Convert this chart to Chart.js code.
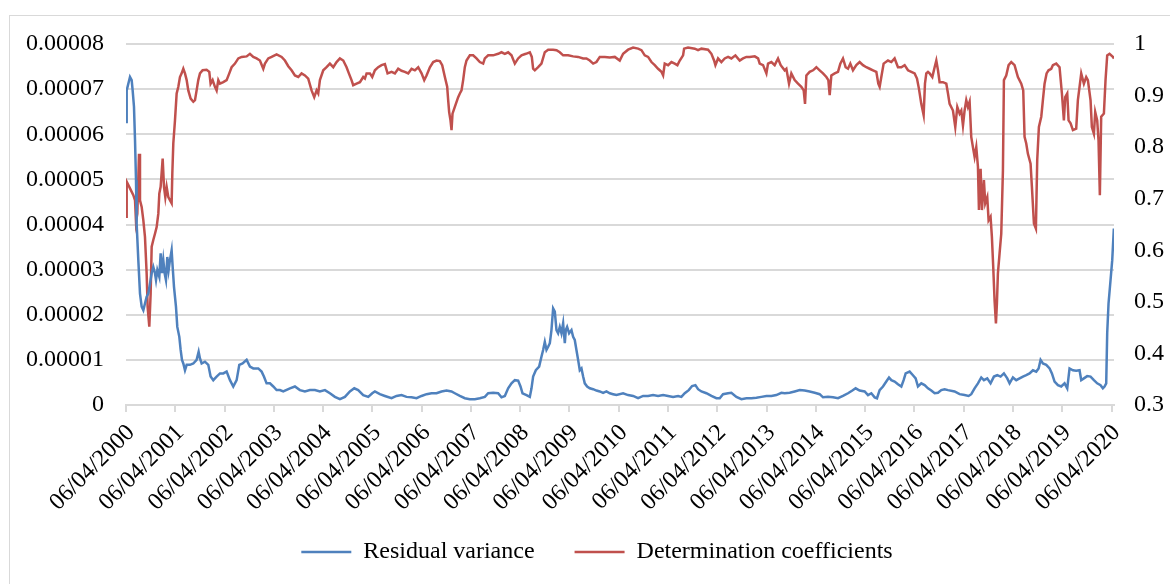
<!DOCTYPE html>
<html>
<head>
<meta charset="utf-8">
<script src="https://cdn.jsdelivr.net/npm/chart.js@4.4.1/dist/chart.umd.min.js"></script>
<style>
  html, body { margin: 0; padding: 0; background: #fff; overflow: hidden; }
  #wrap { position: relative; width: 1170px; height: 584px; }
  #frame { position: absolute; left: 9px; top: 15px; width: 1300px; height: 700px; border: 1px solid #d9d9d9; box-sizing: border-box; }
  canvas { position: absolute; left: 0; top: 0; }
</style>
</head>
<body>
<div id="wrap">
  <div id="frame"></div>
  <canvas id="chart" width="1170" height="584"></canvas>
</div>
<script>
// x positions are years elapsed since 06/04/2000
const tickLabels = ['06/04/2000', '06/04/2001', '06/04/2002', '06/04/2003', '06/04/2004', '06/04/2005',
  '06/04/2006', '06/04/2007', '06/04/2008', '06/04/2009', '06/04/2010', '06/04/2011', '06/04/2012',
  '06/04/2013', '06/04/2014', '06/04/2015', '06/04/2016', '06/04/2017', '06/04/2018', '06/04/2019', '06/04/2020'];

const residualTime = [0, 0.014, 0.047, 0.081, 0.115, 0.135, 0.162, 0.183, 0.203, 0.216, 0.25, 0.284, 0.318, 0.352, 0.385, 0.419, 0.453, 0.487, 0.521, 0.554, 0.588, 0.609, 0.636, 0.676, 0.703, 0.73, 0.757, 0.784, 0.811, 0.838, 0.865, 0.892, 0.926, 0.947, 0.974,
  1.014, 1.041, 1.082, 1.109, 1.136, 1.163, 1.197, 1.231, 1.298, 1.366, 1.433, 1.474, 1.501, 1.535, 1.602, 1.67, 1.717, 1.771, 1.839, 1.907, 1.974,
  2.042, 2.11, 2.177, 2.245, 2.299, 2.366, 2.448, 2.515, 2.583, 2.684, 2.752, 2.799, 2.853, 2.921, 2.989,
  3.056, 3.124, 3.191, 3.327, 3.428, 3.529, 3.631, 3.732, 3.834, 3.935, 4.037, 4.138, 4.239, 4.341, 4.442, 4.544, 4.632, 4.712, 4.814, 4.916, 4.997,
  5.051, 5.152, 5.254, 5.389, 5.49, 5.592, 5.693, 5.795, 5.896, 5.997, 6.099, 6.201, 6.302, 6.403, 6.505, 6.606, 6.673, 6.775, 6.876, 6.978,
  7.079, 7.18, 7.282, 7.35, 7.451, 7.552, 7.62, 7.688, 7.755, 7.823, 7.891, 7.958, 8.006, 8.047, 8.128, 8.195, 8.229, 8.262, 8.317, 8.384, 8.431, 8.465, 8.499, 8.533, 8.567, 8.601, 8.634, 8.668, 8.702, 8.736, 8.769, 8.803, 8.837, 8.871, 8.905, 8.925, 8.952, 8.992,
  9.04, 9.074, 9.107, 9.141, 9.175, 9.209, 9.243, 9.277, 9.31, 9.358, 9.412, 9.48, 9.547, 9.615, 9.682, 9.75, 9.818, 9.885, 9.953,
  10.088, 10.189, 10.291, 10.392, 10.494, 10.595, 10.696, 10.798, 10.9, 11.001, 11.102, 11.204, 11.271, 11.339, 11.42, 11.488, 11.555, 11.609, 11.677, 11.778, 11.88, 11.981,
  12.049, 12.116, 12.218, 12.285, 12.387, 12.489, 12.59, 12.691, 12.793, 12.894, 12.996, 13.097, 13.198, 13.3, 13.367, 13.469, 13.57, 13.672, 13.773, 13.874, 13.976,
  14.077, 14.145, 14.246, 14.348, 14.449, 14.55, 14.652, 14.74, 14.807, 14.888, 14.99, 15.058, 15.125, 15.193, 15.24, 15.294, 15.362, 15.429, 15.484, 15.531, 15.598, 15.666, 15.734, 15.781, 15.822, 15.903, 15.97,
  16.025, 16.072, 16.139, 16.207, 16.275, 16.342, 16.41, 16.478, 16.545, 16.613, 16.681, 16.815, 16.917, 17.018, 17.099, 17.153, 17.221, 17.289, 17.356, 17.41, 17.478, 17.545, 17.613, 17.681, 17.748, 17.816, 17.884, 17.931, 17.999,
  18.066, 18.134, 18.202, 18.269, 18.337, 18.405, 18.472, 18.52, 18.56, 18.607, 18.675, 18.743, 18.79, 18.844, 18.912, 18.979, 19.047, 19.101, 19.148, 19.216, 19.283, 19.351, 19.385, 19.439, 19.506, 19.574, 19.642, 19.709, 19.777, 19.824, 19.858, 19.892, 19.912, 19.939, 19.98, 20.014, 20.047];

const residualVariance = [6.27e-5, 6.97e-5, 7.12e-5, 7.27e-5, 7.2e-5, 6.97e-5, 6.61e-5, 5.87e-5, 4.98e-5, 4.02e-5, 3.21e-5, 2.47e-5, 2.18e-5, 2.1e-5, 2.25e-5, 2.4e-5, 2.47e-5, 2.69e-5, 2.92e-5, 3.06e-5, 2.92e-5, 2.77e-5, 2.99e-5, 2.84e-5, 3.36e-5, 2.92e-5, 3.21e-5, 2.92e-5, 2.77e-5, 3.28e-5, 2.99e-5, 3.21e-5, 3.43e-5, 3.06e-5, 2.62e-5,
  2.18e-5, 1.73e-5, 1.51e-5, 1.22e-5, 1.0e-5, 0.92e-5, 0.77e-5, 0.89e-5, 0.89e-5, 0.92e-5, 1.0e-5, 1.18e-5, 1.03e-5, 0.92e-5, 0.96e-5, 0.89e-5, 0.63e-5, 0.55e-5, 0.63e-5, 0.7e-5, 0.7e-5,
  0.74e-5, 0.55e-5, 0.41e-5, 0.55e-5, 0.89e-5, 0.92e-5, 1.0e-5, 0.85e-5, 0.81e-5, 0.81e-5, 0.74e-5, 0.63e-5, 0.48e-5, 0.48e-5, 0.41e-5,
  0.33e-5, 0.33e-5, 0.3e-5, 0.37e-5, 0.41e-5, 0.33e-5, 0.3e-5, 0.33e-5, 0.33e-5, 0.3e-5, 0.33e-5, 0.26e-5, 0.18e-5, 0.13e-5, 0.18e-5, 0.3e-5, 0.37e-5, 0.33e-5, 0.22e-5, 0.18e-5, 0.26e-5,
  0.3e-5, 0.24e-5, 0.2e-5, 0.15e-5, 0.2e-5, 0.22e-5, 0.18e-5, 0.17e-5, 0.15e-5, 0.2e-5, 0.24e-5, 0.26e-5, 0.26e-5, 0.3e-5, 0.32e-5, 0.3e-5, 0.26e-5, 0.2e-5, 0.15e-5, 0.13e-5,
  0.13e-5, 0.15e-5, 0.18e-5, 0.26e-5, 0.27e-5, 0.26e-5, 0.17e-5, 0.2e-5, 0.37e-5, 0.48e-5, 0.55e-5, 0.54e-5, 0.41e-5, 0.26e-5, 0.22e-5, 0.18e-5, 0.37e-5, 0.63e-5, 0.77e-5, 0.85e-5, 1.07e-5, 1.22e-5, 1.4e-5, 1.22e-5, 1.29e-5, 1.37e-5, 1.66e-5, 2.14e-5, 2.07e-5, 1.66e-5, 1.59e-5, 1.73e-5, 1.59e-5, 1.81e-5, 1.37e-5, 1.66e-5, 1.73e-5, 1.59e-5,
  1.66e-5, 1.51e-5, 1.44e-5, 1.22e-5, 1.0e-5, 0.77e-5, 0.81e-5, 0.63e-5, 0.48e-5, 0.41e-5, 0.37e-5, 0.35e-5, 0.32e-5, 0.3e-5, 0.27e-5, 0.3e-5, 0.26e-5, 0.24e-5, 0.22e-5,
  0.26e-5, 0.22e-5, 0.2e-5, 0.15e-5, 0.2e-5, 0.2e-5, 0.22e-5, 0.2e-5, 0.22e-5, 0.2e-5, 0.18e-5, 0.2e-5, 0.18e-5, 0.26e-5, 0.33e-5, 0.42e-5, 0.44e-5, 0.35e-5, 0.3e-5, 0.26e-5, 0.2e-5, 0.15e-5,
  0.15e-5, 0.24e-5, 0.26e-5, 0.27e-5, 0.18e-5, 0.13e-5, 0.15e-5, 0.15e-5, 0.16e-5, 0.18e-5, 0.2e-5, 0.2e-5, 0.22e-5, 0.27e-5, 0.26e-5, 0.27e-5, 0.3e-5, 0.33e-5, 0.32e-5, 0.3e-5, 0.27e-5,
  0.24e-5, 0.17e-5, 0.18e-5, 0.17e-5, 0.15e-5, 0.2e-5, 0.26e-5, 0.32e-5, 0.37e-5, 0.32e-5, 0.3e-5, 0.22e-5, 0.26e-5, 0.17e-5, 0.15e-5, 0.33e-5, 0.41e-5, 0.52e-5, 0.61e-5, 0.55e-5, 0.52e-5, 0.46e-5, 0.41e-5, 0.55e-5, 0.7e-5, 0.74e-5, 0.66e-5,
  0.59e-5, 0.41e-5, 0.48e-5, 0.44e-5, 0.37e-5, 0.32e-5, 0.26e-5, 0.27e-5, 0.33e-5, 0.35e-5, 0.33e-5, 0.3e-5, 0.24e-5, 0.22e-5, 0.2e-5, 0.24e-5, 0.37e-5, 0.48e-5, 0.61e-5, 0.55e-5, 0.59e-5, 0.48e-5, 0.63e-5, 0.66e-5, 0.63e-5, 0.7e-5, 0.59e-5, 0.48e-5, 0.61e-5,
  0.55e-5, 0.59e-5, 0.63e-5, 0.66e-5, 0.7e-5, 0.77e-5, 0.74e-5, 0.81e-5, 1.0e-5, 0.92e-5, 0.89e-5, 0.81e-5, 0.7e-5, 0.52e-5, 0.44e-5, 0.41e-5, 0.48e-5, 0.37e-5, 0.81e-5, 0.77e-5, 0.76e-5, 0.77e-5, 0.55e-5, 0.59e-5, 0.64e-5, 0.63e-5, 0.55e-5, 0.48e-5, 0.44e-5, 0.37e-5, 0.41e-5, 0.48e-5, 1.59e-5, 2.25e-5, 2.77e-5, 3.21e-5, 3.91e-5];

const determinationTime = [0, 0.014, 0.081, 0.149, 0.183, 0.203, 0.23, 0.264, 0.284, 0.318, 0.352, 0.385, 0.419, 0.439, 0.473, 0.5, 0.521, 0.554, 0.588, 0.622, 0.656, 0.676, 0.703, 0.744, 0.771, 0.798, 0.825, 0.859, 0.892, 0.926, 0.94, 0.96, 0.994,
  1.028, 1.062, 1.095, 1.129, 1.163, 1.197, 1.231, 1.264, 1.312, 1.366, 1.4, 1.433, 1.467, 1.501, 1.555, 1.636, 1.69, 1.717, 1.758, 1.805, 1.839, 1.873, 1.907, 1.974,
  2.042, 2.096, 2.143, 2.211, 2.279, 2.346, 2.448, 2.515, 2.583, 2.65, 2.718, 2.786, 2.82, 2.887, 2.955,
  3.056, 3.158, 3.225, 3.293, 3.36, 3.428, 3.496, 3.563, 3.631, 3.698, 3.766, 3.82, 3.868, 3.901, 3.935, 4.003, 4.07, 4.138, 4.206, 4.273, 4.341, 4.409, 4.476, 4.523, 4.577, 4.611, 4.679, 4.747, 4.814, 4.848, 4.882, 4.95, 4.997,
  5.051, 5.118, 5.186, 5.254, 5.308, 5.389, 5.457, 5.524, 5.592, 5.659, 5.727, 5.795, 5.862, 5.93, 5.998, 6.052, 6.099, 6.167, 6.234, 6.302, 6.369, 6.417, 6.471, 6.518, 6.538, 6.558, 6.585, 6.606, 6.626, 6.673, 6.694, 6.741, 6.775, 6.809, 6.842, 6.876, 6.91, 6.978,
  7.045, 7.113, 7.18, 7.248, 7.282, 7.35, 7.451, 7.552, 7.62, 7.688, 7.755, 7.823, 7.891, 7.958, 8.026, 8.114, 8.195, 8.235, 8.262, 8.296, 8.364, 8.431, 8.499, 8.567, 8.668, 8.736, 8.803, 8.871, 8.972,
  9.074, 9.175, 9.277, 9.344, 9.412, 9.48, 9.547, 9.615, 9.716, 9.818, 9.919, 10.02, 10.088, 10.189, 10.291, 10.392, 10.46, 10.527, 10.595, 10.663, 10.73, 10.798, 10.866, 10.9, 10.933,
  11.001, 11.069, 11.136, 11.19, 11.238, 11.305, 11.326, 11.406, 11.542, 11.609, 11.677, 11.812, 11.88, 11.934, 11.961, 12.015, 12.082, 12.15, 12.218, 12.285, 12.367, 12.455, 12.522, 12.59, 12.657, 12.759, 12.827, 12.86, 12.928, 12.996,
  13.029, 13.097, 13.164, 13.232, 13.286, 13.367, 13.401, 13.455, 13.502, 13.57, 13.638, 13.705, 13.753, 13.78, 13.807, 13.874, 13.942, 14.01, 14.077, 14.145, 14.213, 14.253, 14.28, 14.314, 14.382, 14.449, 14.496, 14.55, 14.604, 14.652, 14.699, 14.753, 14.821, 14.888, 14.956,
  15.024, 15.091, 15.159, 15.227, 15.267, 15.294, 15.328, 15.375, 15.463, 15.531, 15.598, 15.666, 15.734, 15.801, 15.869, 15.937, 16.004, 16.052, 16.092, 16.139, 16.187, 16.214, 16.241, 16.275, 16.309, 16.363, 16.41, 16.444, 16.478, 16.511, 16.579, 16.647, 16.681, 16.714,
  16.782, 16.829, 16.87, 16.917, 16.951, 16.985, 17.018, 17.052, 17.086, 17.12, 17.153, 17.187, 17.221, 17.255, 17.289, 17.309, 17.343, 17.37, 17.41, 17.437, 17.478, 17.505, 17.545, 17.572, 17.599, 17.626, 17.654, 17.674, 17.694, 17.728, 17.762, 17.796, 17.816, 17.863, 17.911, 17.965,
  18.032, 18.1, 18.168, 18.208, 18.235, 18.269, 18.303, 18.357, 18.384, 18.425, 18.465, 18.492, 18.526, 18.574, 18.607, 18.641, 18.682, 18.722, 18.776, 18.81, 18.878, 18.945, 18.993,
  19.033, 19.06, 19.101, 19.128, 19.169, 19.216, 19.283, 19.317, 19.351, 19.385, 19.439, 19.486, 19.52, 19.574, 19.601, 19.642, 19.669, 19.709, 19.736, 19.763, 19.79, 19.845, 19.878, 19.912, 19.959, 20.027, 20.05];

const determinationCoef = [0.665, 0.733, 0.72, 0.707, 0.697, 0.655, 0.671, 0.787, 0.697, 0.684, 0.658, 0.626, 0.555, 0.49, 0.452, 0.516, 0.607, 0.62, 0.632, 0.645, 0.671, 0.71, 0.723, 0.778, 0.723, 0.703, 0.723, 0.703, 0.697, 0.691, 0.749, 0.807, 0.852,
  0.904, 0.917, 0.936, 0.943, 0.952, 0.943, 0.93, 0.91, 0.894, 0.888, 0.891, 0.91, 0.93, 0.943, 0.949, 0.95, 0.946, 0.923, 0.93, 0.917, 0.91, 0.93, 0.923, 0.926,
  0.93, 0.943, 0.955, 0.962, 0.972, 0.975, 0.976, 0.981, 0.975, 0.972, 0.968, 0.952, 0.962, 0.972, 0.975,
  0.98, 0.975, 0.968, 0.957, 0.949, 0.939, 0.936, 0.943, 0.939, 0.933, 0.91, 0.897, 0.91, 0.904, 0.93, 0.949, 0.955, 0.962, 0.955, 0.965, 0.972, 0.968, 0.955, 0.943, 0.93, 0.92, 0.923, 0.926, 0.936, 0.933, 0.943, 0.943, 0.936,
  0.949, 0.955, 0.959, 0.961, 0.943, 0.946, 0.943, 0.952, 0.948, 0.946, 0.943, 0.952, 0.949, 0.955, 0.943, 0.93, 0.939, 0.955, 0.965, 0.968, 0.967, 0.959, 0.936, 0.917, 0.891, 0.868, 0.852, 0.833, 0.865, 0.878, 0.884, 0.897, 0.904, 0.91, 0.93, 0.955, 0.968, 0.978,
  0.978, 0.972, 0.965, 0.962, 0.972, 0.978, 0.978, 0.981, 0.984, 0.981, 0.984, 0.978, 0.962, 0.972, 0.978, 0.981, 0.984, 0.975, 0.952, 0.949, 0.955, 0.962, 0.984, 0.989, 0.989, 0.988, 0.984, 0.978, 0.978,
  0.976, 0.975, 0.972, 0.972, 0.968, 0.962, 0.965, 0.975, 0.975, 0.974, 0.975, 0.968, 0.981, 0.989, 0.993, 0.991, 0.988, 0.978, 0.975, 0.965, 0.959, 0.952, 0.946, 0.939, 0.962,
  0.959, 0.965, 0.962, 0.959, 0.968, 0.978, 0.991, 0.993, 0.991, 0.988, 0.991, 0.989, 0.981, 0.968, 0.959, 0.972, 0.965, 0.972, 0.975, 0.972, 0.978, 0.968, 0.972, 0.975, 0.975, 0.976, 0.972, 0.962, 0.959, 0.943,
  0.962, 0.965, 0.959, 0.972, 0.959, 0.949, 0.952, 0.923, 0.943, 0.93, 0.923, 0.917, 0.91, 0.884, 0.939, 0.946, 0.949, 0.955, 0.949, 0.943, 0.936, 0.93, 0.901, 0.939, 0.943, 0.946, 0.962, 0.972, 0.955, 0.952, 0.962, 0.949, 0.959, 0.965, 0.959,
  0.955, 0.952, 0.949, 0.946, 0.923, 0.917, 0.936, 0.962, 0.968, 0.965, 0.972, 0.955, 0.955, 0.959, 0.949, 0.946, 0.943, 0.933, 0.913, 0.884, 0.862, 0.923, 0.943, 0.946, 0.943, 0.936, 0.955, 0.968, 0.949, 0.926, 0.926, 0.923, 0.904, 0.884,
  0.871, 0.839, 0.878, 0.865, 0.871, 0.842, 0.871, 0.891, 0.878, 0.888, 0.82, 0.8, 0.781, 0.8, 0.762, 0.678, 0.758, 0.678, 0.736, 0.691, 0.703, 0.658, 0.665, 0.626, 0.568, 0.503, 0.458, 0.497, 0.555, 0.594, 0.632, 0.755, 0.93, 0.939, 0.959, 0.965,
  0.959, 0.936, 0.923, 0.91, 0.82, 0.807, 0.787, 0.768, 0.723, 0.652, 0.642, 0.775, 0.839, 0.859, 0.891, 0.923, 0.943, 0.949, 0.952, 0.959, 0.962, 0.955, 0.904,
  0.852, 0.897, 0.904, 0.852, 0.846, 0.833, 0.836, 0.891, 0.917, 0.943, 0.923, 0.936, 0.93, 0.891, 0.839, 0.826, 0.868, 0.852, 0.813, 0.707, 0.859, 0.865, 0.93, 0.978, 0.981, 0.975, 0.972];

function pairs(xs, ys) {
  return xs.map((x, i) => ({ x: x, y: ys[i] }));
}

Chart.defaults.font.family = "'Liberation Serif', 'Times New Roman', serif";
Chart.defaults.font.size = 24;
Chart.defaults.color = '#000';

const ctx = document.getElementById('chart');
const chart = new Chart(ctx, {
  type: 'line',
  data: {
    datasets: [{
      // trailing en space widens the gap between the two legend items
      label: 'Residual variance\u2002',
      data: pairs(residualTime, residualVariance),
      borderColor: '#4f81bd',
      backgroundColor: '#4f81bd',
      borderWidth: 2.5,
      pointRadius: 0,
      yAxisID: 'y'
    }, {
      label: 'Determination coefficients',
      data: pairs(determinationTime, determinationCoef),
      borderColor: '#c0504d',
      backgroundColor: '#c0504d',
      borderWidth: 2.5,
      pointRadius: 0,
      yAxisID: 'y1'
    }]
  },
  options: {
    responsive: false,
    animation: false,
    devicePixelRatio: 1,
    layout: { padding: { left: 24, right: 0, top: 44, bottom: 10 } },
    plugins: {
      tooltip: { enabled: false },
      legend: {
        position: 'bottom',
        labels: {
          usePointStyle: true,
          pointStyle: 'line',
          pointStyleWidth: 50,
          padding: 28,
          color: '#000'
        }
      }
    },
    scales: {
      x: {
        type: 'linear',
        min: 0,
        max: 20.05,
        afterFit: function (axis) { axis.height = 107; },
        grid: { drawOnChartArea: false, drawTicks: true, tickLength: 7, color: '#d9d9d9', lineWidth: 2 },
        border: { display: true, color: '#d9d9d9', width: 2 },
        ticks: {
          stepSize: 1,
          includeBounds: false,
          autoSkip: false,
          minRotation: 45,
          maxRotation: 45,
          padding: 7,
          labelOffset: 5,
          callback: function (v) { return tickLabels[Math.round(v)]; }
        }
      },
      y: {
        position: 'left',
        min: 0,
        max: 0.00008,
        afterFit: function (axis) { axis.width = 102; },
        grid: { color: '#d9d9d9', lineWidth: 2, drawTicks: false },
        border: { display: false },
        ticks: {
          stepSize: 0.00001,
          padding: 22,
          callback: function (v) { return v === 0 ? '0' : v.toFixed(5); }
        }
      },
      y1: {
        position: 'right',
        min: 0.3,
        max: 1,
        afterFit: function (axis) { axis.width = 56; },
        grid: { drawOnChartArea: false, drawTicks: false },
        border: { display: false },
        ticks: {
          stepSize: 0.1,
          padding: 20,
          callback: function (v) { return String(Math.round(v * 10) / 10); }
        }
      }
    }
  }
});
</script>
</body>
</html>
